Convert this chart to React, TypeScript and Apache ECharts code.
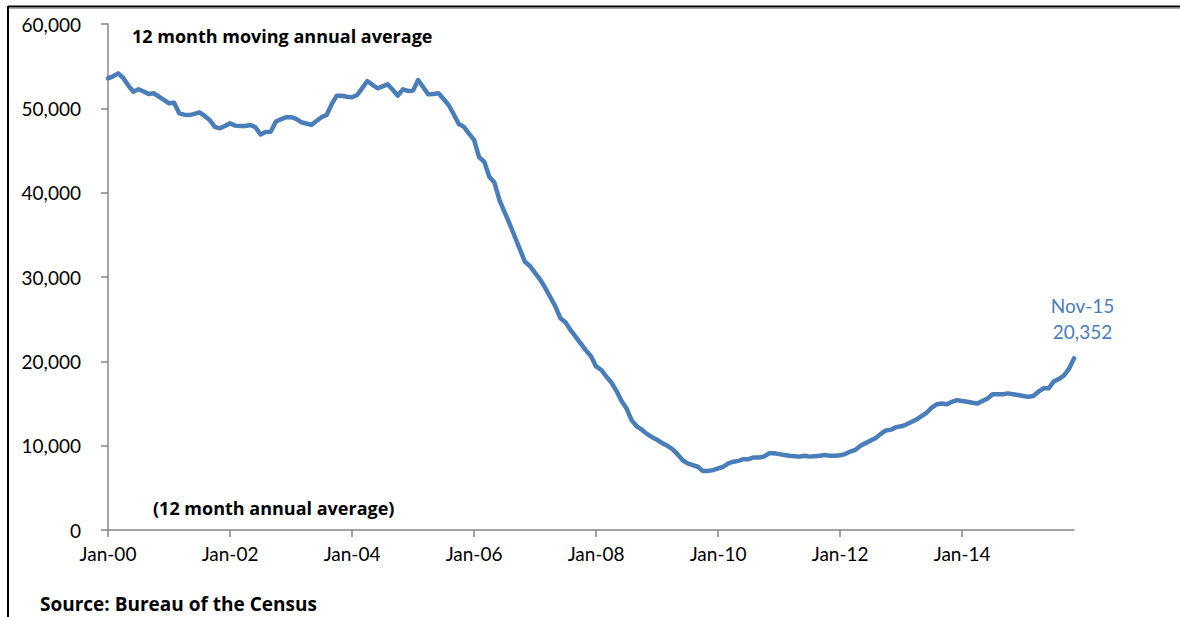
import React, { useEffect, useRef } from "react";
import * as echarts from "echarts";

// Month labels and years (category axis Jan-00 .. Nov-15)
const monthNames = ["Jan", "Feb", "Mar", "Apr", "May", "Jun", "Jul", "Aug", "Sep", "Oct", "Nov", "Dec"];
const yearCodes = ["00", "01", "02", "03", "04", "05", "06", "07", "08", "09", "10", "11", "12", "13", "14", "15"];

// 12 month moving annual average, one array per year
const y2000 = [53560, 53800, 54150, 53600, 52700, 51970, 52260, 52000, 51700, 51780, 51400, 51000];
const y2001 = [50600, 50670, 49410, 49250, 49200, 49350, 49530, 49100, 48620, 47800, 47630, 47900];
const y2002 = [48230, 47950, 47900, 47910, 48030, 47750, 46900, 47200, 47230, 48420, 48700, 48940];
const y2003 = [48950, 48750, 48350, 48200, 48030, 48500, 48950, 49210, 50500, 51500, 51500, 51380];
const y2004 = [51310, 51580, 52400, 53240, 52800, 52380, 52600, 52850, 52200, 51500, 52260, 52060];
const y2005 = [52100, 53360, 52500, 51660, 51700, 51780, 51100, 50400, 49300, 48140, 47800, 47000];
const y2006 = [46250, 44190, 43680, 41890, 41200, 39130, 37700, 36300, 34800, 33300, 31800, 31300];
const y2007 = [30500, 29700, 28700, 27600, 26500, 25100, 24600, 23700, 22900, 22100, 21300, 20600];
const y2008 = [19400, 19000, 18200, 17500, 16500, 15300, 14400, 13000, 12300, 11900, 11400, 11000];
const y2009 = [10700, 10300, 10000, 9600, 9000, 8300, 7900, 7700, 7500, 7000, 7000, 7100];
const y2010 = [7300, 7500, 7900, 8100, 8200, 8400, 8400, 8600, 8600, 8700, 9100, 9100];
const y2011 = [9000, 8900, 8800, 8750, 8700, 8800, 8700, 8750, 8800, 8900, 8800, 8800];
const y2012 = [8850, 9000, 9300, 9500, 10000, 10300, 10600, 10900, 11400, 11800, 11900, 12200];
const y2013 = [12300, 12500, 12800, 13100, 13500, 13900, 14500, 14900, 15000, 14900, 15200, 15400];
const y2014 = [15300, 15200, 15100, 15000, 15300, 15600, 16100, 16100, 16100, 16200, 16100, 16000];
const y2015 = [15900, 15800, 15900, 16400, 16800, 16800, 17600, 17900, 18300, 19100, 20352];

const seriesValues = [
  ...y2000, ...y2001, ...y2002, ...y2003, ...y2004, ...y2005, ...y2006, ...y2007,
  ...y2008, ...y2009, ...y2010, ...y2011, ...y2012, ...y2013, ...y2014, ...y2015,
];

const categories = yearCodes
  .flatMap((yy) => monthNames.map((m) => `${m}-${yy}`))
  .slice(0, seriesValues.length);

const yTicks = { min: 0, max: 60000, interval: 10000 };

const fmt = (v: number) => v.toLocaleString("en-US");

const FONT = "Lato, 'Noto Sans', sans-serif";
const BOLD_FONT = "'Open Sans', 'Noto Sans', sans-serif";
const BLUE = "#4A7EBB";
const AXIS = "#868686";

export default function App() {
  const ref = useRef<HTMLDivElement>(null);

  useEffect(() => {
    if (!ref.current) return;
    const chart = echarts.init(ref.current, undefined, { renderer: "svg" });
    const last = seriesValues.length - 1;
    const data = seriesValues.map((v, i) =>
      i === last
        ? {
            value: v,
            symbol: "circle",
            symbolSize: 3,
            itemStyle: { color: BLUE },
            label: {
              show: true,
              position: [10, -12],
              color: BLUE,
              fontFamily: FONT,
              fontSize: 19,
              lineHeight: 26,
              align: "center",
              verticalAlign: "bottom",
              formatter: (p: any) => `${p.name}\n${fmt(p.value)}`,
            },
          }
        : { value: v, symbol: "none", symbolSize: 0 }
    );

    chart.setOption({
      animation: false,
      backgroundColor: "#ffffff",
      grid: { left: 108, right: 106, top: 24, bottom: 87 },
      xAxis: {
        type: "category",
        data: categories,
        boundaryGap: false,
        axisLine: { show: true, lineStyle: { color: AXIS, width: 1.5 } },
        axisTick: { show: true, interval: 23, length: 7, inside: false, lineStyle: { color: AXIS, width: 1.5 } },
        axisLabel: {
          interval: 23,
          margin: 14,
          color: "#000",
          fontFamily: FONT,
          fontSize: 19,
        },
        splitLine: { show: false },
      },
      yAxis: {
        type: "value",
        min: yTicks.min,
        max: yTicks.max,
        interval: yTicks.interval,
        axisLine: { show: true, lineStyle: { color: AXIS, width: 1.5 } },
        axisTick: { show: true, length: 7, inside: false, lineStyle: { color: AXIS, width: 1.5 } },
        axisLabel: {
          margin: 27,
          color: "#000",
          fontFamily: FONT,
          fontSize: 19,
          formatter: (v: number) => fmt(v),
        },
        splitLine: { show: false },
      },
      series: [
        {
          type: "line",
          data,
          showSymbol: true,
          showAllSymbol: true,
          lineStyle: { color: BLUE, width: 4.5, join: "round", cap: "round" },
          itemStyle: { color: BLUE },
          labelLayout: { hideOverlap: false },
          z: 3,
        },
      ],
      graphic: [
        { type: "line", shape: { x1: 8, y1: 6.5, x2: 1180, y2: 6.5 }, style: { stroke: "#000", lineWidth: 2 }, silent: true },
        { type: "line", shape: { x1: 8, y1: 8.5, x2: 1180, y2: 8.5 }, style: { stroke: "#aaaaaa", lineWidth: 1 }, silent: true },
        { type: "line", shape: { x1: 8, y1: 6, x2: 8, y2: 617 }, style: { stroke: "#000", lineWidth: 2 }, silent: true },
        {
          type: "text",
          x: 132,
          y: 36,
          style: {
            text: "12 month moving annual average",
            fill: "#000",
            font: `bold 18px ${BOLD_FONT}`,
            verticalAlign: "middle",
          },
        },
        {
          type: "text",
          x: 153,
          y: 508,
          style: {
            text: "(12 month annual average)",
            fill: "#000",
            font: `bold 18px ${BOLD_FONT}`,
            verticalAlign: "middle",
          },
        },
        {
          type: "text",
          x: 40,
          y: 604,
          style: {
            text: "Source: Bureau of the Census",
            fill: "#000",
            font: `bold 19px ${BOLD_FONT}`,
            lineHeight: 24,
            verticalAlign: "middle",
          },
        },
      ],
    });

    return () => chart.dispose();
  }, []);

  return (
    <div
      ref={ref}
      style={{ position: "fixed", left: 0, top: 0, width: 1180, height: 617, background: "#fff" }}
    />
  );
}
